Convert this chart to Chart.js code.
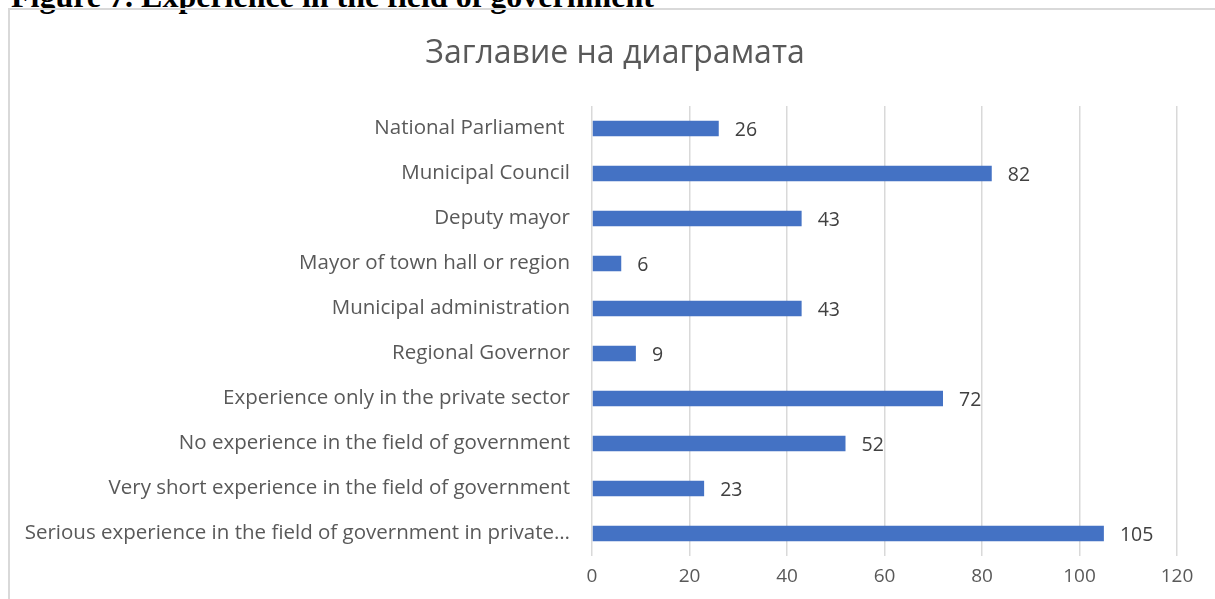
<!DOCTYPE html>
<html lang="en">

<head>
    <meta charset="UTF-8">
    <title>Experience in the field of government</title>
    <script src="https://cdn.jsdelivr.net/npm/chart.js"></script>
    <style>
        html, body {
            margin: 0;
            padding: 0;
            width: 1215px;
            height: 599px;
            overflow: hidden;
            background: #fff;
        }

        #caption {
            position: absolute;
            left: 11px;
            top: -20px;
            font: bold 32px "Liberation Serif", "Times New Roman", serif;
            line-height: 32px;
            white-space: nowrap;
            color: #000;
        }

        #frame {
            position: absolute;
            left: 8px;
            top: 8px;
            width: 1260px;
            height: 640px;
            border: 2px solid #d9d9d9;
        }

        #wrap {
            position: absolute;
            left: 0;
            top: 0;
            width: 1215px;
            height: 599px;
        }
    </style>
</head>

<body>
    <div id="caption">Figure 7. Experience in the field of government</div>
    <div id="frame"></div>
    <div id="wrap"><canvas id="govChart"></canvas></div>

    <script>
        // Категории и стойности
        const categories = [
            'National Parliament ',
            'Municipal Council',
            'Deputy mayor',
            'Mayor of town hall or region',
            'Municipal administration',
            'Regional Governor',
            'Experience only in the private sector',
            'No experience in the field of government',
            'Very short experience in the field of government',
            'Serious experience in the field of government in private\u2026'
        ];
        const counts = [26, 82, 43, 6, 43, 9, 72, 52, 23, 105];
        const xTicks = [0, 20, 40, 60, 80, 100, 120];
        const chartTitle = 'Заглавие на диаграмата';

        const FONT = '"Open Sans", "Liberation Sans", sans-serif';

        // заглавие, центрирано спрямо рамката
        const titlePlugin = {
            id: 'frameTitle',
            afterDraw(chart) {
                const ctx = chart.ctx;
                ctx.save();
                ctx.font = '32px ' + FONT;
                ctx.fillStyle = '#595959';
                ctx.textAlign = 'center';
                ctx.textBaseline = 'middle';
                ctx.fillText(chartTitle, 615, 54);
                ctx.restore();
            }
        };

        // стойността вдясно от всяка лента
        const barLabels = {
            id: 'barLabels',
            afterDatasetsDraw(chart) {
                const ctx = chart.ctx;
                const meta = chart.getDatasetMeta(0);
                ctx.save();
                ctx.font = '19.5px ' + FONT;
                ctx.fillStyle = '#404040';
                ctx.textAlign = 'left';
                ctx.textBaseline = 'middle';
                meta.data.forEach((bar, i) => {
                    ctx.fillText(String(counts[i]), bar.x + 16, bar.y + 2);
                });
                ctx.restore();
            }
        };

        new Chart(document.getElementById('govChart'), {
            type: 'bar',
            data: {
                labels: categories,
                datasets: [{
                    data: counts,
                    backgroundColor: '#4472c4',
                    borderWidth: 0,
                    categoryPercentage: 1,
                    barPercentage: 0.345
                }]
            },
            options: {
                indexAxis: 'y',
                responsive: true,
                maintainAspectRatio: false,
                animation: false,
                layout: {
                    padding: { left: 0, right: 38, top: 106, bottom: 0 }
                },
                plugins: {
                    legend: { display: false },
                    tooltip: { enabled: false },
                    title: { display: false }
                },
                scales: {
                    x: {
                        min: 0,
                        max: 120,
                        afterBuildTicks(scale) {
                            scale.ticks = xTicks.map(v => ({ value: v }));
                        },
                        afterFit(scale) {
                            scale.height = 43;
                        },
                        grid: {
                            color: '#d9d9d9',
                            lineWidth: 1.5,
                            drawTicks: false
                        },
                        border: { display: false },
                        ticks: {
                            color: '#595959',
                            padding: 9,
                            font: { family: FONT, size: 19 }
                        }
                    },
                    y: {
                        afterFit(scale) {
                            scale.width = 592;
                        },
                        grid: { display: false, drawTicks: false },
                        border: { display: false },
                        ticks: {
                            color: '#595959',
                            padding: 22,
                            font: { family: FONT, size: 20.5 }
                        }
                    }
                }
            },
            plugins: [barLabels, titlePlugin]
        });
    </script>
</body>

</html>
